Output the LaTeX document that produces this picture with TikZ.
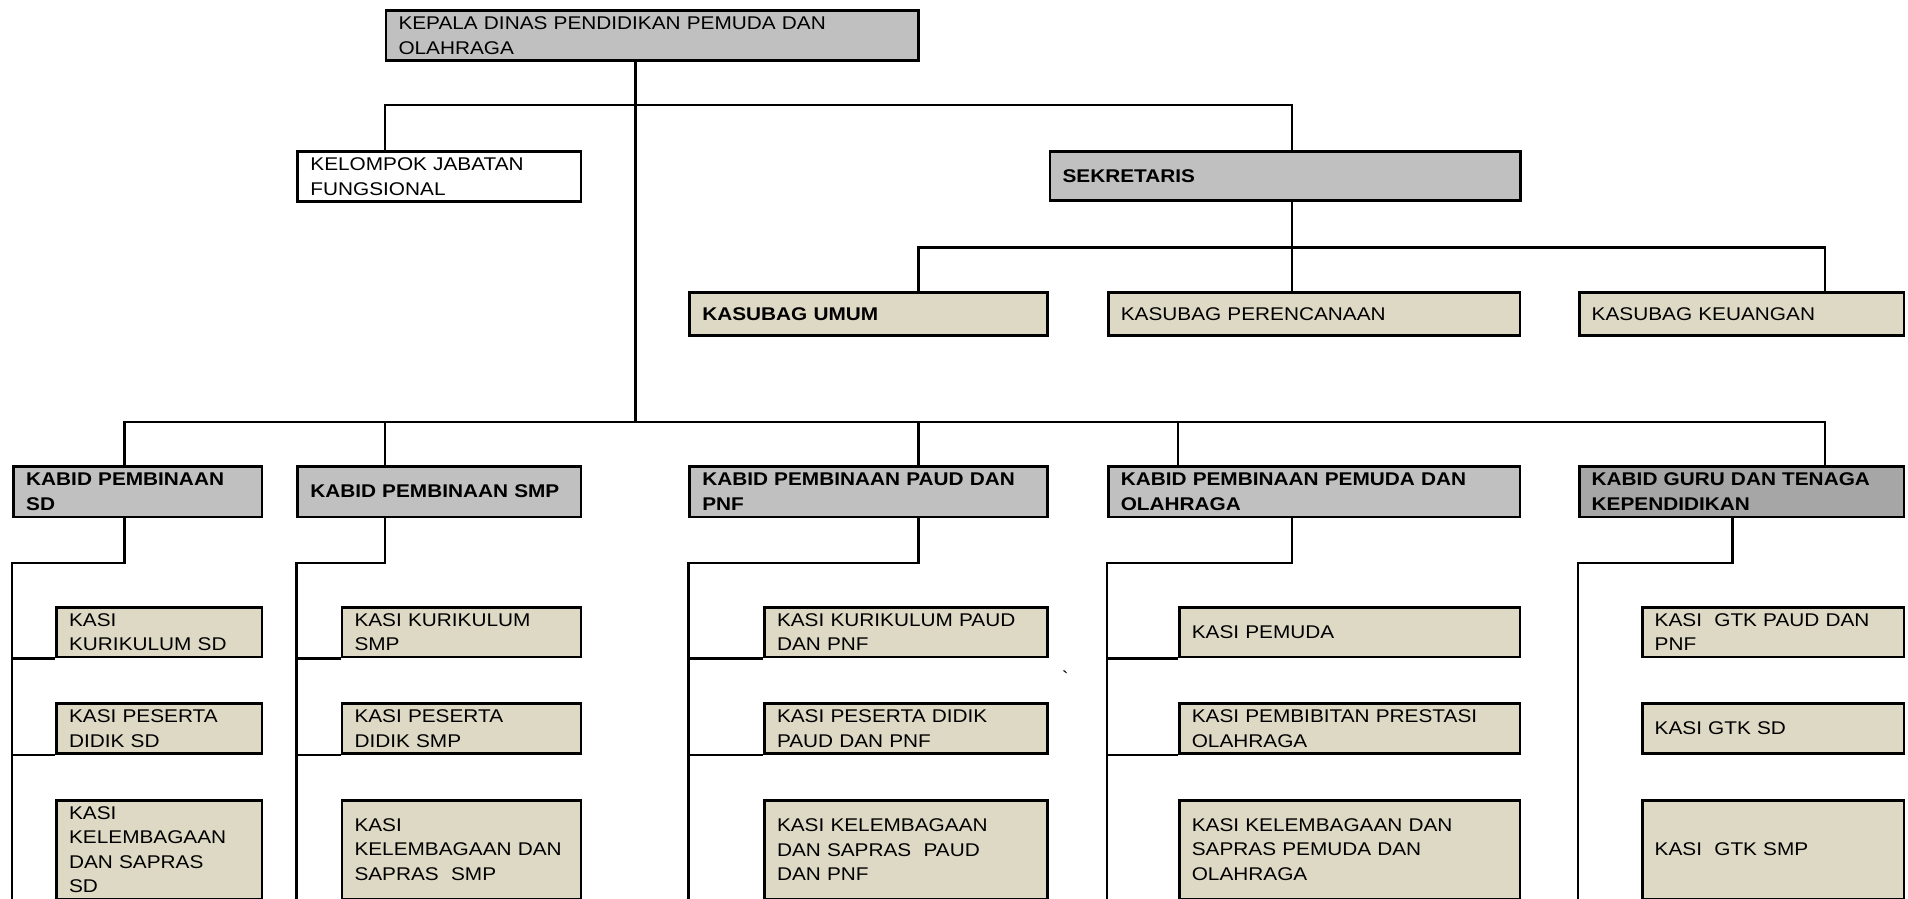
\documentclass[tikz,border=0pt]{standalone}
\usepackage{fontspec}
\setmainfont{Liberation Sans}[FakeStretch=1.13]
\usetikzlibrary{positioning}
\definecolor{headgray}{HTML}{C0C0C0}
\definecolor{gurugray}{HTML}{A6A6A6}
\definecolor{kasitan}{HTML}{DDD9C4}

\begin{document}
\begin{tikzpicture}[x=0.5pt,y=-0.5pt,line width=1.2pt,
    unit node/.style={draw,line width=1.4pt,anchor=north west,align=left,inner xsep=6.3pt,inner ysep=0pt,font=\fontsize{9.2}{12.3}\selectfont},
    boxsize/.style 2 args={minimum width=#1*0.5pt-1.4pt,text width=#1*0.5pt-14pt,minimum height=#2*0.5pt-1.4pt},
    head node/.style={unit node,fill=headgray},
    kabid node/.style={unit node,fill=headgray,font=\fontsize{9.2}{12.3}\selectfont\bfseries},
    kasi node/.style={unit node,fill=kasitan}]

            \useasboundingbox (0,0) rectangle (1908,899);
            \clip (0,0) rectangle (1908,899);

            \node[head node,boxsize={535}{53}] (kepala) at (384.5,9) {KEPALA DINAS PENDIDIKAN PEMUDA DAN\\OLAHRAGA};
            \node[unit node,fill=white,boxsize={286}{52.4}] (fungsional) at (296.4,150.3) {KELOMPOK JABATAN\\FUNGSIONAL};
            \node[kabid node,boxsize={473}{52}] (sekretaris) at (1048.6,150.3) {SEKRETARIS};

            \node[kasi node,font=\fontsize{9.2}{12.3}\selectfont\bfseries,boxsize={360.3}{45.7}] (umum) at (688.3,291) {KASUBAG UMUM};
            \node[kasi node,boxsize={414.5}{45.7}] (perencanaan) [right=29.1pt of umum] {KASUBAG PERENCANAAN};
            \node[kasi node,boxsize={327.6}{45.7}] (keuangan) [right=28.2pt of perencanaan] {KASUBAG KEUANGAN};

            \node[kabid node,boxsize={251.1}{53.3}] (kbsd) at (12.2,465) {KABID PEMBINAAN\\SD};
            \node[kabid node,boxsize={286}{53.3}] (kbsmp) [right=16.5pt of kbsd] {KABID PEMBINAAN SMP};
            \node[kabid node,boxsize={360.3}{53.3}] (kbpaud) [right=53pt of kbsmp] {KABID PEMBINAAN PAUD DAN\\PNF};
            \node[kabid node,boxsize={414.5}{53.3}] (kbpemuda) [right=29.1pt of kbpaud] {KABID PEMBINAAN PEMUDA DAN\\OLAHRAGA};
            \node[kabid node,fill=gurugray,boxsize={327.6}{53.3}] (kbguru) [right=28.2pt of kbpemuda] {KABID GURU DAN TENAGA\\KEPENDIDIKAN};

            \node[kasi node,boxsize={208.2}{52.6}] (sd1) at (55.1,605.7) {KASI\\KURIKULUM SD};
            \node[kasi node,boxsize={208.2}{52.6}] (sd2) [below=22pt of sd1] {KASI PESERTA\\DIDIK SD};
            \node[kasi node,boxsize={208.2}{101.4}] (sd3) [below=22pt of sd2] {KASI\\KELEMBAGAAN\\DAN SAPRAS\\SD};

            \node[kasi node,boxsize={241.9}{52.6}] (smp1) at (340.5,605.7) {KASI KURIKULUM\\SMP};
            \node[kasi node,boxsize={241.9}{52.6}] (smp2) [below=22pt of smp1] {KASI PESERTA\\DIDIK SMP};
            \node[kasi node,boxsize={241.9}{101.4}] (smp3) [below=22pt of smp2] {KASI\\KELEMBAGAAN DAN\\SAPRAS\ \ SMP};

            \node[kasi node,boxsize={285.6}{52.6}] (paud1) at (763,605.7) {KASI KURIKULUM PAUD\\DAN PNF};
            \node[kasi node,boxsize={285.6}{52.6}] (paud2) [below=22pt of paud1] {KASI PESERTA DIDIK\\PAUD DAN PNF};
            \node[kasi node,boxsize={285.6}{101.4}] (paud3) [below=22pt of paud2] {KASI KELEMBAGAAN\\DAN SAPRAS\ \ PAUD\\DAN PNF};

            \node[kasi node,boxsize={343.5}{52.6}] (pemuda1) at (1177.8,605.7) {KASI PEMUDA};
            \node[kasi node,boxsize={343.5}{52.6}] (pemuda2) [below=22pt of pemuda1] {KASI PEMBIBITAN PRESTASI\\OLAHRAGA};
            \node[kasi node,boxsize={343.5}{101.4}] (pemuda3) [below=22pt of pemuda2] {KASI KELEMBAGAAN DAN\\SAPRAS PEMUDA DAN\\OLAHRAGA};

            \node[kasi node,boxsize={264.6}{52.6}] (guru1) at (1640.7,605.7) {KASI\ \ GTK PAUD DAN\\PNF};
            \node[kasi node,boxsize={264.6}{52.6}] (guru2) [below=22pt of guru1] {KASI GTK SD};
            \node[kasi node,boxsize={264.6}{101.4}] (guru3) [below=22pt of guru2] {KASI\ \ GTK SMP};

            \node[font=\fontsize{9.2}{11}\selectfont,inner sep=0pt,anchor=north] (tick) at (1065,670) {\textasciigrave};

            \coordinate (jf) at (385,105.3);
            \coordinate (js) at (1291.7,105.3);
            \coordinate (sb1) at (918.5,247.3);
            \coordinate (sb2) at (1825,247.3);
            \coordinate (bus) at (635.6,421.7);
            \coordinate (b1) at (124.3,421.7);
            \coordinate (b5) at (1825,421.7);

            \draw (kepala.south -| bus) -- (bus);
            \draw (fungsional.north -| jf) -- (jf) -- (js) -- (sekretaris.north -| js);
            \draw (sekretaris.south -| js) -- (perencanaan.north -| js);
            \draw (umum.north -| sb1) -- (sb1) -- (sb2) -- (keuangan.north -| sb2);
            \draw (kbsd.north -| b1) -- (b1) -- (b5) -- (kbguru.north -| b5);
            \foreach \x/\n in {385.2/kbsmp,918.5/kbpaud,1177.8/kbpemuda}
                \draw (\x,421.7) -- (\n.north -| \x,0);

            \foreach \n/\xe in {kbsd/124.3,kbsmp/385.2,kbpaud/918.5,kbpemuda/1291.7,kbguru/1732.6}
                \draw (\n.south -| \xe,0) -- (\xe,562.7) -| (\n.west |- 0,910);

            \foreach \k/\c in {kbsd/sd,kbsmp/smp,kbpaud/paud,kbpemuda/pemuda}
                \foreach \r in {1,2}
                    \draw (\c\r.south west -| \k.west) -- (\c\r.south west);
        \end{tikzpicture}
\end{document}
